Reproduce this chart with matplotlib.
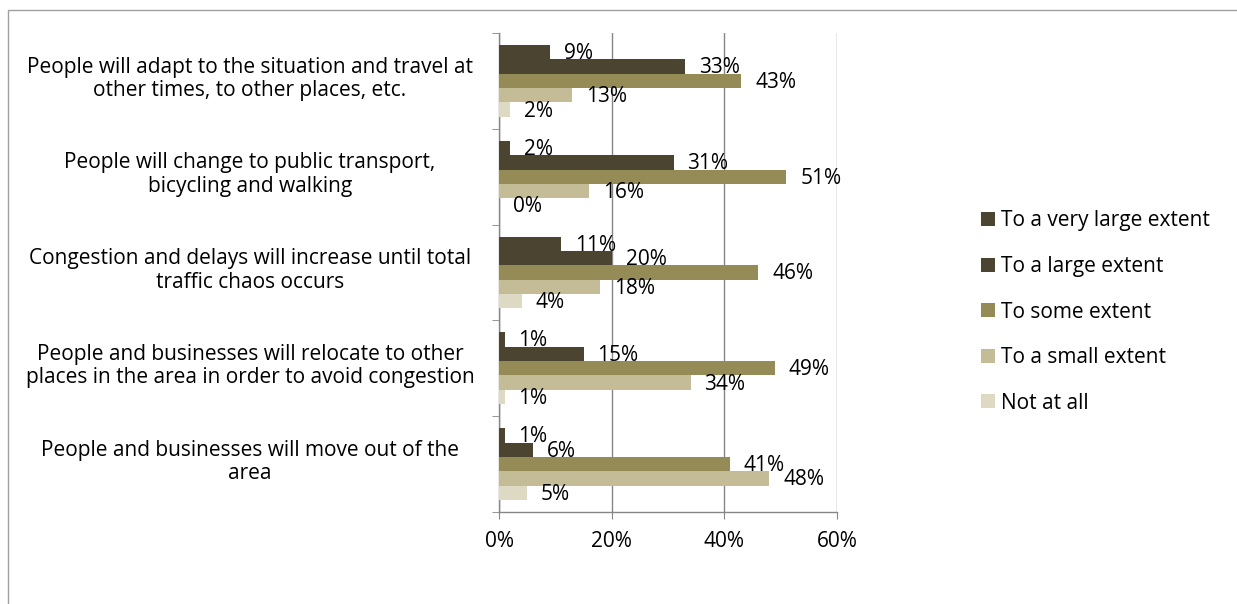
import matplotlib
matplotlib.use("Agg")
import matplotlib.pyplot as plt
from matplotlib.patches import Rectangle
import numpy as np

plt.rcParams['font.family'] = ['Open Sans', 'DejaVu Sans']

categories = [
    "People will adapt to the situation and travel at\nother times, to other places, etc.",
    "People will change to public transport,\nbicycling and walking",
    "Congestion and delays will increase until total\ntraffic chaos occurs",
    "People and businesses will relocate to other\nplaces in the area in order to avoid congestion",
    "People and businesses will move out of the\narea",
]
series_names = ["To a very large extent", "To a large extent", "To some extent",
                "To a small extent", "Not at all"]
very_large = [9, 2, 11, 1, 1]
large = [33, 31, 20, 15, 6]
some = [43, 51, 46, 49, 41]
small = [13, 16, 18, 34, 48]
not_at_all = [2, 0, 4, 1, 5]
series_values = [very_large, large, some, small, not_at_all]
colors = ["#4B4430", "#4B4430", "#958B56", "#C4BC97", "#DDD9C3"]
xticks = [0, 20, 40, 60]
xtick_labels = ["0%", "20%", "40%", "60%"]

FS = 15
W, H = 1237, 604
fig = plt.figure(figsize=(W / 100, H / 100), dpi=100)
fig.patches.append(Rectangle((8 / W, -0.1), 1.2, 1 - 10 / H + 0.1, transform=fig.transFigure,
                             fill=False, edgecolor="#A0A0A0", linewidth=1.0))

ax = fig.add_axes([499 / W, 1 - 512 / H, (837 - 499) / W, (512 - 33) / H])
n = len(categories)
bh = 0.15
y = np.arange(n)
for i, (name, vals, c) in enumerate(zip(series_names, series_values, colors)):
    pos = y - 0.375 + bh * (i + 0.5)
    ax.barh(pos, vals, height=bh, color=c, label=name, zorder=3)
    for p, v in zip(pos, vals):
        ax.annotate(f"{v}%", (v, p), xytext=(10, -1), textcoords="offset points",
                    ha="left", va="center", fontsize=FS, color="black", zorder=4)

ax.set_xlim(0, 60)
ax.set_ylim(n - 0.5, -0.5)
ax.set_xticks(xticks)
ax.set_xticklabels(xtick_labels, fontsize=FS)
ax.set_yticks(y)
ax.set_yticklabels([""] * n)
ax.tick_params(axis="y", length=0)
for yi, cat in zip(y, categories):
    ax.annotate(cat, xy=(0, yi), xycoords=ax.get_yaxis_transform(),
                xytext=(-249 * 0.72, 1.5), textcoords="offset points",
                ha="center", va="center", multialignment="center",
                fontsize=FS, linespacing=1.15, annotation_clip=False)
ax.set_yticks(np.arange(n + 1) - 0.5, minor=True)
ax.tick_params(axis="y", which="minor", length=5, direction="out", color="#868686")
ax.tick_params(axis="x", length=5, direction="out", color="#868686", pad=9)
ax.xaxis.grid(True, color="#868686", linewidth=1.0, zorder=0)
for s in ["top", "right"]:
    ax.spines[s].set_visible(False)
for s in ["left", "bottom"]:
    ax.spines[s].set_color("#868686")
    ax.spines[s].set_linewidth(1.0)

handles, labels = ax.get_legend_handles_labels()
leg = fig.legend(handles, labels, loc="center left", bbox_to_anchor=(962 / W, 1 - 312 / H),
                 frameon=False, fontsize=FS, handlelength=0.67, handleheight=0.67,
                 handletextpad=0.3, labelspacing=1.18)

fig.savefig("out.png", dpi=100)
